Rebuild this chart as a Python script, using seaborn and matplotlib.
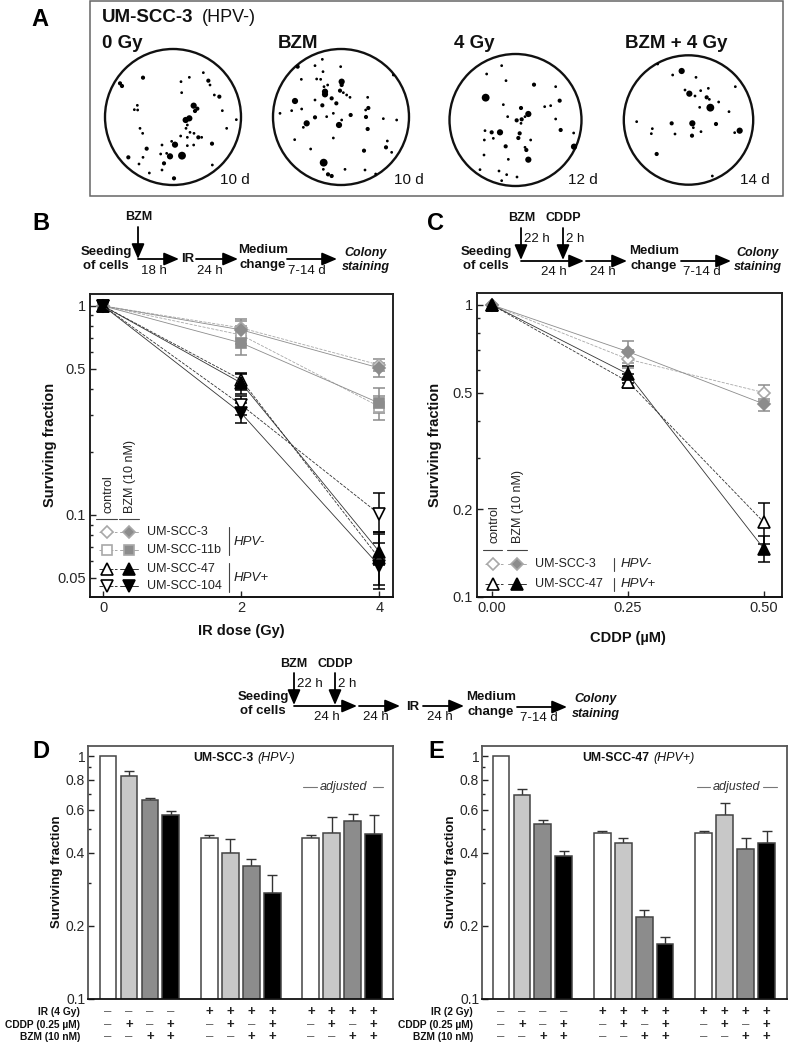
import numpy as np
import pandas as pd
import seaborn as sns
import matplotlib.pyplot as plt
from matplotlib.ticker import NullFormatter

W, H = 790, 1044

dish_0gy_x = [60,66,129,325,330,268,243,310,343,358,281,292,285,367,409,268,257,262,258,245,112,103,113,120,128,380,270,282,262,242,295,305,336,225,215,262,281,140,186,85,129,182,200,210,246,192,186,148,222,117,337]
dish_0gy_y = [130,138,113,122,135,112,125,98,165,170,197,206,213,212,239,235,240,255,265,158,196,209,210,265,280,265,277,280,292,288,292,292,311,314,304,317,315,326,315,352,352,342,340,349,347,370,390,399,415,372,375]
dish_0gy_s = [2,2,2,2,1,1,1,1,1,2,3,2,2,1,1,3,3,1,1,1,1,1,1,1,1,1,1,1,1,1,2,1,2,3,1,1,1,2,1,2,1,1,1,3,4,2,1,1,2,1,1]

dish_bzm_x = [593,645,667,722,669,604,650,662,725,725,683,672,675,675,720,730,740,750,585,645,667,695,709,803,805,797,645,680,700,725,752,798,850,890,540,605,575,620,610,717,803,700,584,862,858,875,792,632,671,684,695,735,795,880,827,670]
dish_bzm_y = [80,77,58,80,95,118,117,118,125,135,135,140,155,163,152,158,165,172,183,180,196,175,190,172,204,210,232,230,220,240,225,231,236,240,220,207,212,250,262,255,267,294,299,303,322,337,332,327,368,403,408,388,390,105,402,388]
dish_bzm_s = [2,1,1,1,1,1,1,1,3,2,1,1,3,3,2,1,1,1,3,1,2,2,2,1,2,1,2,1,1,1,2,2,1,1,1,1,1,3,1,3,2,1,1,1,2,1,2,1,4,2,2,1,1,1,1,1]

dish_4gy_x = [122,125,170,183,267,332,344,299,317,175,228,250,240,230,215,188,228,347,140,165,120,224,220,182,240,244,117,250,387,386,105,162,185,170,216,190,257,332,145,118]
dish_4gy_y = [173,102,77,122,134,140,182,200,197,194,204,222,230,238,241,230,250,270,277,277,272,280,294,319,322,330,345,359,320,279,389,393,404,422,411,358,300,237,295,300]
dish_4gy_s = [4,1,1,1,2,1,2,1,1,1,2,3,1,2,2,1,1,2,2,3,1,2,2,2,1,2,1,3,3,1,1,1,1,1,1,1,1,1,1,1]

dish_both_x = [710,733,753,767,785,793,821,796,764,750,871,683,575,680,742,813,745,768,741,884,869,690,622,619,635,852,790,720,638,802]
dish_both_y = [93,161,112,152,172,178,186,203,202,168,140,105,245,250,250,252,263,275,287,272,278,282,266,281,342,215,145,150,72,408]
dish_both_s = [3,3,1,1,2,1,1,4,1,1,1,1,1,2,3,2,1,1,2,3,1,1,1,1,2,1,1,1,1,1]

# panel B
ir_dose = [0, 2, 4]
scc3_ctrl = [1, 0.785, 0.522]
scc3_ctrl_lo = [1, 0.72, 0.49]
scc3_ctrl_hi = [1, 0.85, 0.557]
scc3_bzm = [1, 0.768, 0.505]
scc3_bzm_lo = [1, 0.70, 0.457]
scc3_bzm_hi = [1, 0.866, 0.535]
scc11b_ctrl = [1, 0.726, 0.33]
scc11b_ctrl_lo = [1, 0.66, 0.308]
scc11b_ctrl_hi = [1, 0.80, 0.37]
scc11b_bzm = [1, 0.665, 0.343]
scc11b_bzm_lo = [1, 0.582, 0.284]
scc11b_bzm_hi = [1, 0.745, 0.406]
scc47_ctrl = [1, 0.443, 0.062]
scc47_ctrl_lo = [1, 0.396, 0.0463]
scc47_ctrl_hi = [1, 0.48, 0.081]
scc47_bzm = [1, 0.428, 0.0668]
scc47_bzm_lo = [1, 0.38, 0.0575]
scc47_bzm_hi = [1, 0.47, 0.083]
scc104_ctrl = [1, 0.336, 0.101]
scc104_ctrl_lo = [1, 0.30, 0.083]
scc104_ctrl_hi = [1, 0.37, 0.128]
scc104_bzm = [1, 0.307, 0.0572]
scc104_bzm_lo = [1, 0.275, 0.044]
scc104_bzm_hi = [1, 0.345, 0.0731]

# panel C
cddp_dose = [0, 0.25, 0.5]
c3_ctrl = [1, 0.652, 0.501]
c3_ctrl_lo = [1, 0.61, 0.47]
c3_ctrl_hi = [1, 0.70, 0.532]
c3_bzm = [1, 0.692, 0.458]
c3_bzm_lo = [1, 0.635, 0.434]
c3_bzm_hi = [1, 0.755, 0.477]
c47_ctrl = [1, 0.546, 0.18]
c47_ctrl_lo = [1, 0.518, 0.152]
c47_ctrl_hi = [1, 0.58, 0.21]
c47_bzm = [1, 0.58, 0.146]
c47_bzm_lo = [1, 0.54, 0.132]
c47_bzm_hi = [1, 0.62, 0.162]

# panels D and E
treatments = ['none', 'CDDP', 'BZM', 'both']
d_vals = [1, 0.825, 0.657, 0.572, 0.461, 0.398, 0.354, 0.273, 0.461, 0.482, 0.540, 0.479]
d_tops = [1, 0.865, 0.672, 0.595, 0.472, 0.454, 0.378, 0.325, 0.472, 0.563, 0.579, 0.573]
e_vals = [1, 0.693, 0.525, 0.386, 0.481, 0.44, 0.217, 0.169, 0.481, 0.572, 0.413, 0.439]
e_tops = [1, 0.733, 0.547, 0.405, 0.491, 0.461, 0.233, 0.180, 0.491, 0.643, 0.461, 0.491]
ir_signs = list('----++++++++')
cddp_signs = list('-+-+-+-+-+-+')
bzm_signs = list('--++--++--++')

sns.set_style('white')
plt.rcParams['font.family'] = ['Liberation Sans', 'DejaVu Sans']
plt.rcParams['mathtext.default'] = 'regular'

fig = plt.figure(figsize=(W / 100, H / 100), dpi=100, facecolor='white')


def px_axes(left, top, right, bottom):
    return fig.add_axes([left / W, 1 - bottom / H, (right - left) / W, (bottom - top) / H])


def style_axes(ax, color='#222222', lw=1.4):
    for s in ax.spines.values():
        s.set_visible(True)
        s.set_color(color)
        s.set_linewidth(lw)
    ax.spines['bottom'].set_color('#111111')
    ax.set_yscale('log')
    ax.yaxis.set_minor_formatter(NullFormatter())
    ax.tick_params(axis='both', which='major', direction='in', length=4, width=1, left=True, bottom=True, color='#222222', pad=3)
    ax.tick_params(axis='y', which='minor', direction='in', length=2.5, width=1, left=True, color='#222222')


def curve(ax, x, y, lo, hi, marker, ms, line, dash, edge, face, ebar):
    df = pd.DataFrame({'dose': x, 'sf': y})
    y = np.array(y)
    ax.errorbar(x[1:], y[1:], yerr=[(y - np.array(lo))[1:], (np.array(hi) - y)[1:]], fmt='none',
                ecolor=ebar, elinewidth=1.1, capsize=4, capthick=1.1, zorder=3)
    sns.lineplot(data=df, x='dose', y='sf', ax=ax, color=line, linestyle=dash, linewidth=0.6,
                 marker=marker, markersize=ms, markerfacecolor=face, markeredgecolor=edge,
                 markeredgewidth=1.2, errorbar=None, zorder=4)


GREY = '#8c8c8c'
LGREY = '#a8a8a8'
DARK = '#333333'

# panel B
axb = px_axes(90, 294, 393, 597)
style_axes(axb)
curve(axb, ir_dose, scc3_ctrl, scc3_ctrl_lo, scc3_ctrl_hi, 'D', 6.5, LGREY, '--', LGREY, 'white', GREY)
curve(axb, ir_dose, scc11b_ctrl, scc11b_ctrl_lo, scc11b_ctrl_hi, 's', 7, LGREY, '--', LGREY, 'white', GREY)
curve(axb, ir_dose, scc3_bzm, scc3_bzm_lo, scc3_bzm_hi, 'D', 6.5, GREY, '-', GREY, GREY, GREY)
curve(axb, ir_dose, scc11b_bzm, scc11b_bzm_lo, scc11b_bzm_hi, 's', 7, GREY, '-', GREY, GREY, GREY)
curve(axb, ir_dose, scc47_ctrl, scc47_ctrl_lo, scc47_ctrl_hi, '^', 8.5, DARK, '--', 'black', 'white', 'black')
curve(axb, ir_dose, scc104_ctrl, scc104_ctrl_lo, scc104_ctrl_hi, 'v', 8.5, DARK, '--', 'black', 'white', 'black')
curve(axb, ir_dose, scc47_bzm, scc47_bzm_lo, scc47_bzm_hi, '^', 8.5, DARK, '-', 'black', 'black', 'black')
curve(axb, ir_dose, scc104_bzm, scc104_bzm_lo, scc104_bzm_hi, 'v', 8.5, DARK, '-', 'black', 'black', 'black')
axb.set_xlim(-0.19, 4.2)
axb.set_ylim(0.0405, 1.14)
axb.set_xticks(ir_dose)
axb.set_yticks([1, 0.5, 0.1, 0.05], labels=['1', '0.5', '0.1', '0.05'])
axb.tick_params(labelsize=10.5)
axb.set_xlabel('')
axb.set_ylabel('')

# panel C
axc = px_axes(477, 293, 782, 597)
style_axes(axc)
curve(axc, cddp_dose, c3_ctrl, c3_ctrl_lo, c3_ctrl_hi, 'D', 6.5, LGREY, '--', LGREY, 'white', GREY)
curve(axc, cddp_dose, c3_bzm, c3_bzm_lo, c3_bzm_hi, 'D', 6.5, GREY, '-', GREY, GREY, GREY)
curve(axc, cddp_dose, c47_ctrl, c47_ctrl_lo, c47_ctrl_hi, '^', 8.5, DARK, '--', 'black', 'white', 'black')
curve(axc, cddp_dose, c47_bzm, c47_bzm_lo, c47_bzm_hi, '^', 8.5, DARK, '-', 'black', 'black', 'black')
axc.set_xlim(-0.0276, 0.533)
axc.set_ylim(0.1, 1.099)
axc.set_xticks(cddp_dose, labels=['0.00', '0.25', '0.50'])
axc.set_yticks([1, 0.5, 0.2, 0.1], labels=['1', '0.5', '0.2', '0.1'])
axc.tick_params(labelsize=10.5)
axc.set_xlabel('')
axc.set_ylabel('')


def bars(ax, vals, tops, xlim):
    xpos = [g * 4.85 + i for g in range(3) for i in range(4)]
    hues = treatments * 3
    pal = dict(zip(treatments, ['white', '#c8c8c8', '#8c8c8c', 'black']))
    # error bars first so the bar hides the lower half
    ax.errorbar(xpos[1:], vals[1:], yerr=[np.zeros(11), np.array(tops[1:]) - np.array(vals[1:])],
                fmt='none', ecolor='#333333', elinewidth=1, capsize=3.6, capthick=1, zorder=1)
    sns.barplot(x=xpos, y=vals, hue=hues, palette=pal, native_scale=True, dodge=False, width=0.8,
                edgecolor='#444444', linewidth=1.1, legend=False, ax=ax, zorder=2)
    style_axes(ax, color='#555555', lw=1.3)
    ax.set_xlim(*xlim)
    ax.set_ylim(0.1, 1.1)
    ax.set_xticks([])
    ax.set_yticks([1, 0.8, 0.6, 0.4, 0.2, 0.1], labels=['1', '0.8', '0.6', '0.4', '0.2', '0.1'])
    ax.set_yticks([0.9, 0.7, 0.5, 0.3], minor=True)
    ax.yaxis.set_minor_formatter(NullFormatter())
    ax.tick_params(axis='y', labelsize=10, pad=2)
    ax.set_ylabel('')
    trans = ax.get_xaxis_transform()
    for row, signs in zip([1012, 1025, 1037], [ir_signs, cddp_signs, bzm_signs]):
        yf = -(row - 999) / 253
        for x, s in zip(xpos, signs):
            ax.text(x, yf, '+' if s == '+' else '\u2013', transform=trans, ha='center', va='center',
                    fontsize=9.5, fontweight='bold' if s == '+' else 'normal',
                    color='#222222' if s == '+' else '#555555')


axd = px_axes(88, 746, 393, 999)
bars(axd, d_vals, d_tops, (-0.96, 13.63))
axe = px_axes(482, 746, 787, 999)
bars(axe, e_vals, e_tops, (-0.91, 13.68))

# pixel overlay for panel A, schematics, legends and labels
ov = fig.add_axes([0, 0, 1, 1], zorder=10)
ov.set_xlim(0, W)
ov.set_ylim(H, 0)
ov.axis('off')
ov.patch.set_alpha(0)
ov.set_autoscale_on(False)

ov.add_patch(plt.Rectangle((90, 1), 693, 195, fill=False, ec='#666666', lw=1.1))
for cx, cy, r in [(173, 117, 68), (341, 117, 68), (515.5, 120, 66), (688.5, 120, 64.7)]:
    ov.add_patch(plt.Circle((cx, cy), r, fill=False, ec='#111111', lw=1.7))
colony_sizes = {1: 4, 2: 9, 3: 20, 4: 32}
sns.scatterplot(x=np.array(dish_0gy_x) / 3 + 100, y=np.array(dish_0gy_y) / 3 + 40, size=dish_0gy_s,
                sizes=colony_sizes, color='black', linewidth=0, legend=False, ax=ov)
sns.scatterplot(x=np.array(dish_bzm_x) / 3 + 100, y=np.array(dish_bzm_y) / 3 + 40, size=dish_bzm_s,
                sizes=colony_sizes, color='black', linewidth=0, legend=False, ax=ov)
sns.scatterplot(x=np.array(dish_4gy_x) / 3 + 445, y=np.array(dish_4gy_y) / 3 + 40, size=dish_4gy_s,
                sizes=colony_sizes, color='black', linewidth=0, legend=False, ax=ov)
sns.scatterplot(x=np.array(dish_both_x) / 3 + 445, y=np.array(dish_both_y) / 3 + 40, size=dish_both_s,
                sizes=colony_sizes, color='black', linewidth=0, legend=False, ax=ov)


def txt(x, y, s, size=10, weight='normal', style='normal', ha='center', rot=0, color='#111111', va='center'):
    ov.text(x, y, s, fontsize=size, fontweight=weight, fontstyle=style, ha=ha, va=va, rotation=rot, color=color)


def arrow(x0, y0, x1, y1):
    ov.annotate('', xy=(x1, y1), xytext=(x0, y0),
                arrowprops=dict(arrowstyle='-|>,head_length=0.7,head_width=0.3', lw=1.3, color='black',
                                shrinkA=0, shrinkB=0, mutation_scale=13))


for x, y, s in [(40, 19, 'A'), (41, 223, 'B'), (436, 224, 'C'), (41, 751, 'D'), (436, 751, 'E')]:
    txt(x, y, s, size=17, weight='bold', color='black')

txt(102, 18, 'UM-SCC-3', size=13.5, weight='bold', ha='left')
txt(202, 18, '(HPV-)', size=13, ha='left')
for x, s in [(102, '0 Gy'), (278, 'BZM'), (454, '4 Gy'), (625, 'BZM + 4 Gy')]:
    txt(x, 44, s, size=13.5, weight='bold', ha='left')
for x, s in [(235, '10 d'), (409, '10 d'), (583, '12 d'), (755, '14 d')]:
    txt(x, 180, s, size=11)


def seeding(x, y1, y2):
    txt(x, y1, 'Seeding', size=9.5, weight='bold')
    txt(x, y2, 'of cells', size=9.5, weight='bold')


def medium(x, y1, y2):
    txt(x, y1, 'Medium', size=9.5, weight='bold')
    txt(x, y2, 'change', size=9.5, weight='bold')


def colony(x, y1, y2):
    txt(x, y1, 'Colony', size=9, weight='bold', style='italic')
    txt(x, y2, 'staining', size=9, weight='bold', style='italic')


# schematic B
txt(139, 217, 'BZM', size=9, weight='bold')
arrow(138, 227, 138, 259)
arrow(138, 259, 179, 259)
txt(188, 259, 'IR', size=9.5, weight='bold')
arrow(196, 259, 238, 259)
arrow(287, 259, 337, 259)
seeding(106, 252, 266)
medium(263, 250, 265)
colony(366, 253, 267)
txt(154, 271, '18 h', size=9.5)
txt(210, 271, '24 h', size=9.5)
txt(307, 271, '7-14 d', size=9.5)

# schematic C
txt(522, 218, 'BZM', size=9, weight='bold')
txt(563, 218, 'CDDP', size=9, weight='bold')
arrow(521, 228, 521, 260)
arrow(563, 228, 563, 260)
arrow(521, 261, 584, 261)
arrow(586, 261, 627, 261)
arrow(681, 261, 731, 261)
txt(524, 239, '22 h', size=9.5, ha='left')
txt(566, 239, '2 h', size=9.5, ha='left')
seeding(486, 252, 266)
medium(654, 251, 266)
colony(758, 253, 267)
txt(554, 272, '24 h', size=9.5)
txt(603, 272, '24 h', size=9.5)
txt(702, 272, '7-14 d', size=9.5)

# schematic bottom
txt(294, 664, 'BZM', size=9, weight='bold')
txt(335, 664, 'CDDP', size=9, weight='bold')
arrow(294, 673, 294, 705)
arrow(335, 673, 335, 705)
arrow(294, 706, 357, 706)
arrow(359, 706, 400, 706)
arrow(423, 706, 464, 706)
arrow(517, 707, 567, 707)
txt(297, 684, '22 h', size=9.5, ha='left')
txt(338, 684, '2 h', size=9.5, ha='left')
seeding(263, 697, 711)
txt(413, 707, 'IR', size=9.5, weight='bold')
medium(491, 697, 712)
colony(596, 699, 714)
txt(327, 717, '24 h', size=9.5)
txt(376, 717, '24 h', size=9.5)
txt(440, 717, '24 h', size=9.5)
txt(539, 718, '7-14 d', size=9.5)


def legend_row(y, x0, x1, text, tx, marker, ms, line, edge, fill):
    ov.plot([x0 - 8, x0 + 10], [y, y], color=line, lw=0.7, ls='--')
    ov.plot([x1 - 9, x1 + 9], [y, y], color=line, lw=0.7)
    ov.plot([x0], [y], marker=marker, ms=ms, mfc='white', mec=edge, mew=1.2, ls='none')
    ov.plot([x1], [y], marker=marker, ms=ms, mfc=fill, mec=edge, mew=1.2, ls='none')
    txt(tx, y, text, size=9, ha='left', color='#222222')


# legend B
txt(108, 513, 'control', size=9, rot=90, va='bottom', color='#222222')
txt(130, 513, 'BZM (10 nM)', size=9, rot=90, va='bottom', color='#222222')
ov.plot([96, 117], [519, 519], color='#444444', lw=0.8)
ov.plot([119, 139], [519, 519], color='#444444', lw=0.8)
legend_row(532, 107, 129, 'UM-SCC-3', 147, 'D', 6.5, LGREY, LGREY, GREY)
legend_row(550, 107, 129, 'UM-SCC-11b', 147, 's', 7, LGREY, LGREY, GREY)
legend_row(569, 107, 129, 'UM-SCC-47', 147, '^', 8.5, DARK, 'black', 'black')
legend_row(586, 107, 129, 'UM-SCC-104', 147, 'v', 8.5, DARK, 'black', 'black')
ov.plot([229, 229], [527, 555], color='#444444', lw=0.8)
ov.plot([229, 229], [563, 592], color='#444444', lw=0.8)
txt(234, 542, 'HPV-', size=9.5, style='italic', ha='left', color='#222222')
txt(234, 578, 'HPV+', size=9.5, style='italic', ha='left', color='#222222')

# legend C
txt(495, 543, 'control', size=9, rot=90, va='bottom', color='#222222')
txt(518, 543, 'BZM (10 nM)', size=9, rot=90, va='bottom', color='#222222')
ov.plot([483, 502], [550, 550], color='#444444', lw=0.8)
ov.plot([507, 527], [550, 550], color='#444444', lw=0.8)
legend_row(564, 493, 517, 'UM-SCC-3', 535, 'D', 6.5, LGREY, LGREY, GREY)
legend_row(584, 493, 517, 'UM-SCC-47', 535, '^', 8.5, DARK, 'black', 'black')
ov.plot([614, 614], [558, 571], color='#444444', lw=0.8)
ov.plot([614, 614], [578, 591], color='#444444', lw=0.8)
txt(621, 564, 'HPV-', size=9.5, style='italic', ha='left', color='#222222')
txt(621, 584, 'HPV+', size=9.5, style='italic', ha='left', color='#222222')

# axis labels
txt(241, 631, 'IR dose (Gy)', size=10.5, weight='bold')
txt(50, 445, 'Surviving fraction', size=10.5, weight='bold', rot=90)
txt(628, 638, 'CDDP (\u00b5M)', size=10.5, weight='bold')
txt(435, 445, 'Surviving fraction', size=10.5, weight='bold', rot=90)
txt(57, 872, 'Surviving fraction', size=9.5, weight='bold', rot=90)
txt(451, 872, 'Surviving fraction', size=9.5, weight='bold', rot=90)

# bar panel texts
txt(193, 758, 'UM-SCC-3', size=8.8, weight='bold', ha='left')
txt(257, 758, '(HPV-)', size=9, style='italic', ha='left')
txt(582, 758, 'UM-SCC-47', size=8.8, weight='bold', ha='left')
txt(653, 758, '(HPV+)', size=9, style='italic', ha='left')
txt(320, 787, 'adjusted', size=9, style='italic', ha='left', color='#333333')
ov.plot([303, 317], [787, 787], color='#777777', lw=0.8)
ov.plot([373, 383], [787, 787], color='#777777', lw=0.8)
txt(713, 787, 'adjusted', size=9, style='italic', ha='left', color='#333333')
ov.plot([697, 710], [787, 787], color='#777777', lw=0.8)
ov.plot([763, 777], [787, 787], color='#777777', lw=0.8)

for x, ir in [(80, 'IR (4 Gy)'), (473, 'IR (2 Gy)')]:
    txt(x, 1012, ir, size=7.4, weight='bold', ha='right')
    txt(x, 1025, 'CDDP (0.25 \u00b5M)', size=7.4, weight='bold', ha='right')
    txt(x, 1037, 'BZM (10 nM)', size=7.4, weight='bold', ha='right')

fig.savefig('out.png', dpi=100)
